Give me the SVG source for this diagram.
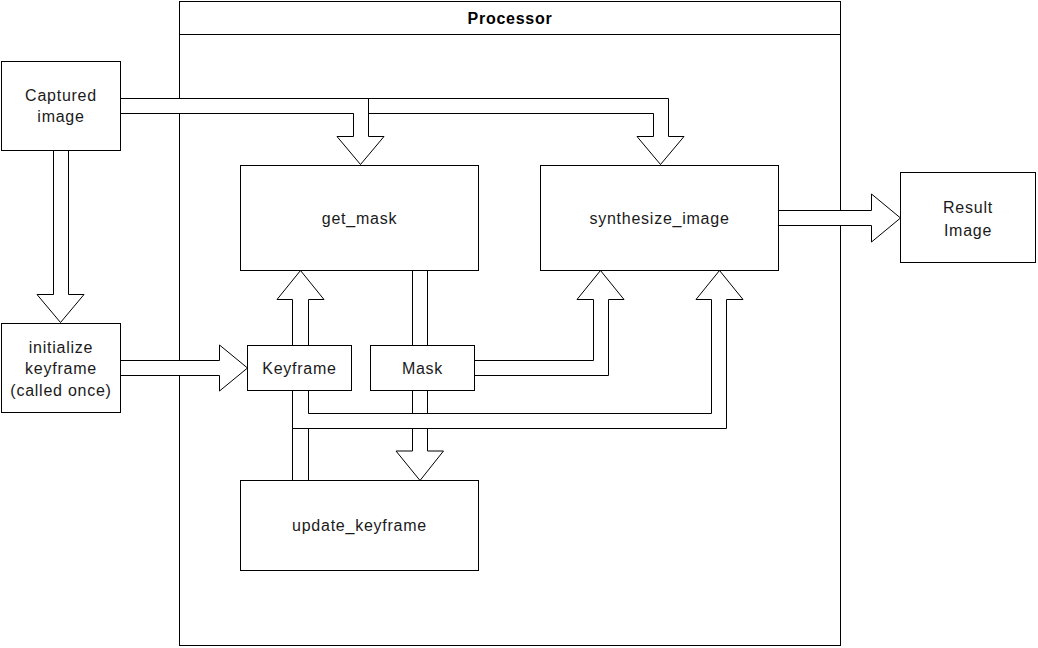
<svg xmlns="http://www.w3.org/2000/svg" width="1038" height="648" viewBox="0 0 1038 648">
<style>
  .box { fill: #ffffff; stroke: #000000; stroke-width: 1; }
  .arrow { fill: #ffffff; stroke: #000000; stroke-width: 1; stroke-linejoin: miter; }
  .lbl { font-family: "Liberation Sans", Arial, sans-serif; font-size: 16px; letter-spacing: 0.75px; fill: #1a1a1a; text-anchor: middle; }
  .title { font-family: "Liberation Sans", Arial, sans-serif; font-size: 16px; font-weight: bold; letter-spacing: 0.75px; fill: #000000; text-anchor: middle; }
</style>
<rect width="1038" height="648" fill="#ffffff"/>

<g id="processor">
  <rect class="box" x="179.5" y="1.5" width="661" height="644"/>
  <line x1="179.5" y1="34.5" x2="840.5" y2="34.5" stroke="#000000" stroke-width="1"/>
  <text class="title" x="510" y="24">Processor</text>
</g>

<g id="connectors">
  <polygon class="arrow" points="120.5,98.5 668.5,98.5 668.5,136.5 684,136.5 660.5,164.5 637,136.5 653.5,136.5 653.5,113.5 120.5,113.5"/>
  <polygon class="arrow" points="120.5,98.5 368.5,98.5 368.5,136.5 384,136.5 360.5,164.5 337,136.5 353.5,136.5 353.5,113.5 120.5,113.5"/>
  <polygon class="arrow" points="53.5,150.5 68.5,150.5 68.5,294.5 84,294.5 60.5,322.5 37,294.5 53.5,294.5"/>
  <polygon class="arrow" points="120.5,360.5 219.5,360.5 219.5,345 247.5,368 219.5,391 219.5,375.5 120.5,375.5"/>
  <polygon class="arrow" points="292.5,345.5 292.5,299.5 277,299.5 300.5,270.5 324,299.5 308.5,299.5 308.5,345.5"/>
  <polygon class="arrow" points="412.5,270.5 427.5,270.5 427.5,451 443.5,451 420,480.5 396,451 412.5,451"/>
  <polygon class="arrow" points="474.5,360.5 593.5,360.5 593.5,299.5 577,299.5 600.5,270.5 624,299.5 608.5,299.5 608.5,375.5 474.5,375.5"/>
  <rect class="arrow" x="292.5" y="390.5" width="16" height="90"/>
  <polygon class="arrow" points="292.5,390.5 308.5,390.5 308.5,413.5 711.5,413.5 711.5,299.5 696,299.5 719.5,270.5 743,299.5 726.5,299.5 726.5,428.5 292.5,428.5"/>
  <polygon class="arrow" points="778.5,210.5 871.5,210.5 871.5,194 900.5,218 871.5,242 871.5,225.5 778.5,225.5"/>
</g>

<g id="captured-image">
  <rect class="box" x="1.5" y="61.5" width="119" height="89"/>
  <text class="lbl" x="61" y="100.5">Captured</text>
  <text class="lbl" x="61" y="122">image</text>
</g>

<g id="initialize-keyframe">
  <rect class="box" x="1.5" y="323.5" width="119" height="89"/>
  <text class="lbl" x="61" y="352.5">initialize</text>
  <text class="lbl" x="61" y="374">keyframe</text>
  <text class="lbl" x="61" y="395.5">(called once)</text>
</g>

<g id="get-mask">
  <rect class="box" x="240.5" y="165.5" width="238" height="105"/>
  <text class="lbl" x="359.5" y="224">get_mask</text>
</g>

<g id="synthesize-image">
  <rect class="box" x="540.5" y="165.5" width="238" height="105"/>
  <text class="lbl" x="659.5" y="224">synthesize_image</text>
</g>

<g id="keyframe">
  <rect class="box" x="247.5" y="345.5" width="104" height="45"/>
  <text class="lbl" x="299.5" y="374">Keyframe</text>
</g>

<g id="mask">
  <rect class="box" x="370.5" y="345.5" width="104" height="45"/>
  <text class="lbl" x="422.5" y="374">Mask</text>
</g>

<g id="update-keyframe">
  <rect class="box" x="240.5" y="480.5" width="238" height="90"/>
  <text class="lbl" x="359.5" y="531">update_keyframe</text>
</g>

<g id="result-image">
  <rect class="box" x="900.5" y="172.5" width="135" height="90"/>
  <text class="lbl" x="968" y="213">Result</text>
  <text class="lbl" x="968" y="235.5">Image</text>
</g>
</svg>
